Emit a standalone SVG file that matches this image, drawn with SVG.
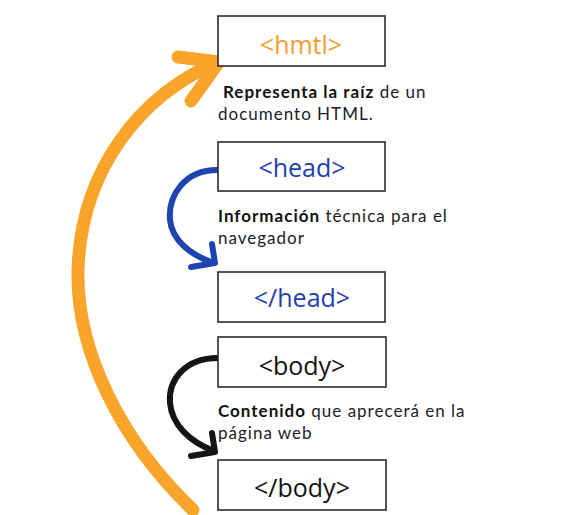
<svg xmlns="http://www.w3.org/2000/svg" width="576" height="515" viewBox="0 0 576 515">
<style>
.box{fill:#fff;stroke:#2b2b2b;stroke-width:1.6}
.tag{font-family:"Open Sans",sans-serif;font-size:25px;text-anchor:middle}
.desc{font-family:Lato,"Open Sans",sans-serif;font-size:17px;letter-spacing:1px;fill:#1c1c28}
.b{font-weight:700;fill:#111}
.arr{fill:none;stroke-linecap:round;stroke-linejoin:round}
</style>
<rect width="576" height="515" fill="#fff"/>
<g id="connectors">
<path class="arr" d="M193,510 C120,440 76,350 78,270 C81,170 140,95 218,62" stroke="#F9A52C" stroke-width="13"/>
<path class="arr" d="M178,57 L219,62 L191,101" stroke="#F9A52C" stroke-width="13"/>
<path class="arr" d="M217,170 C185,170 168,195 170,220 C172,240 190,255 214,263" stroke="#1E44B2" stroke-width="6"/>
<path class="arr" d="M212,244 L215,263 L191,267" stroke="#1E44B2" stroke-width="6"/>
<path class="arr" d="M218,358 C185,358 168,380 170,403 C172,425 190,442 214,451" stroke="#141414" stroke-width="6"/>
<path class="arr" d="M212,433 L215,452 L191,456" stroke="#141414" stroke-width="6"/>
</g>
<g id="node-html">
<rect class="box" x="218" y="16" width="167" height="50"/>
<text class="tag" x="301" y="54" fill="#F39B2A">&lt;hmtl&gt;</text>
</g>
<g id="desc-html">
<text class="desc" x="223" y="98"><tspan class="b">Representa la raíz</tspan> de un</text>
<text class="desc" x="218" y="120">documento HTML.</text>
</g>
<g id="node-head">
<rect class="box" x="218" y="142" width="167" height="49"/>
<text class="tag" x="302" y="177" fill="#1E3FAE">&lt;head&gt;</text>
</g>
<g id="desc-head">
<text class="desc" x="218" y="222"><tspan class="b">Información</tspan> técnica para el</text>
<text class="desc" x="218" y="244">navegador</text>
</g>
<g id="node-head-close">
<rect class="box" x="218" y="272" width="167" height="50"/>
<text class="tag" x="302" y="307" fill="#1E3FAE">&lt;/head&gt;</text>
</g>
<g id="node-body">
<rect class="box" x="218" y="337" width="168" height="50"/>
<text class="tag" x="302" y="375" fill="#111">&lt;body&gt;</text>
</g>
<g id="desc-body">
<text class="desc" x="218" y="417"><tspan class="b">Contenido</tspan> que aprecerá en la</text>
<text class="desc" x="218" y="439">página web</text>
</g>
<g id="node-body-close">
<rect class="box" x="218" y="460" width="168" height="50"/>
<text class="tag" x="302" y="497" fill="#111">&lt;/body&gt;</text>
</g>
</svg>
